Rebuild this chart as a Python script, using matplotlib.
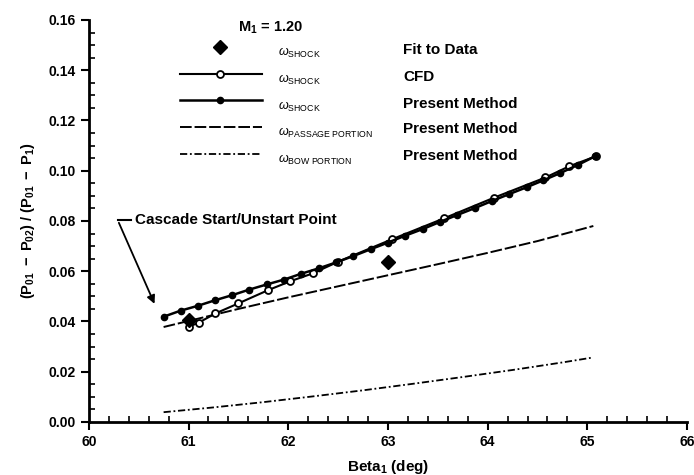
import matplotlib
matplotlib.use("Agg")
import matplotlib.pyplot as plt
from matplotlib.ticker import MultipleLocator

plt.rcParams['font.family'] = ['Liberation Sans', 'DejaVu Sans']
plt.rcParams['mathtext.fontset'] = 'custom'
plt.rcParams['mathtext.rm'] = 'Liberation Sans'
plt.rcParams['mathtext.bf'] = 'Liberation Sans:bold'
plt.rcParams['mathtext.it'] = 'Liberation Sans:italic'

# Fit to data (diamonds)
fit_beta = [61.00, 63.00]
fit_loss = [0.0405, 0.0638]

# CFD (open circles)
cfd_beta = [61.00, 61.10, 61.27, 61.50, 61.80, 62.02, 62.25, 62.50, 63.04, 63.56, 64.06, 64.58, 64.82, 65.09]
cfd_loss = [0.0379, 0.0395, 0.0432, 0.0472, 0.0525, 0.0560, 0.0592, 0.0638, 0.0727, 0.0810, 0.0892, 0.0973, 0.1018, 0.1058]

# Present method, shock loss (filled circles)
pm_beta = [60.75, 60.92, 61.09, 61.27, 61.44, 61.61, 61.79, 61.96, 62.13, 62.31, 62.48, 62.65, 62.83,
           63.00, 63.17, 63.35, 63.52, 63.69, 63.87, 64.04, 64.21, 64.39, 64.56, 64.73, 64.91, 65.08]
pm_loss = [0.0419, 0.0443, 0.0462, 0.0485, 0.0505, 0.0527, 0.0548, 0.0567, 0.0590, 0.0612, 0.0635, 0.0660, 0.0688,
           0.0714, 0.0741, 0.0768, 0.0796, 0.0823, 0.0851, 0.0879, 0.0906, 0.0934, 0.0962, 0.0991, 0.1024, 0.1058]

# Present method, passage portion
pass_beta = [60.75, 61.50, 62.00, 62.50, 63.00, 63.50, 64.00, 64.50, 65.06]
pass_loss = [0.0378, 0.0450, 0.0496, 0.0540, 0.0584, 0.0628, 0.0673, 0.0720, 0.0780]

# Present method, bow portion
bow_beta = [60.75, 61.25, 61.75, 62.25, 62.75, 63.25, 63.75, 64.25, 64.75, 65.06]
bow_loss = [0.0039, 0.0058, 0.0079, 0.0102, 0.0126, 0.0152, 0.0179, 0.0207, 0.0237, 0.0257]

fig = plt.figure(figsize=(6.94, 4.75), dpi=100)
ax = fig.add_axes([0.128, 0.1116, 0.862, 0.8464])

ax.plot(pass_beta, pass_loss, color='black', lw=1.4, linestyle=(0, (6, 1.5)))
ax.plot(bow_beta, bow_loss, color='black', lw=1.3, linestyle=(0, (4, 1.5, 1, 1.5)))
ax.plot(cfd_beta, cfd_loss, color='black', lw=1.5, marker='o', markersize=5,
        markerfacecolor='white', markeredgewidth=1.3)
ax.plot(pm_beta, pm_loss, color='black', lw=1.8, marker='o', markersize=4.5)
ax.plot(fit_beta, fit_loss, linestyle='none', marker='D', markersize=7, color='black')

ax.set_xlim(60, 66)
ax.set_ylim(0, 0.16)
ax.xaxis.set_major_locator(MultipleLocator(1))
ax.xaxis.set_minor_locator(MultipleLocator(0.2))
ax.yaxis.set_major_locator(MultipleLocator(0.02))
ax.yaxis.set_minor_locator(MultipleLocator(0.005))
ax.yaxis.set_major_formatter(plt.FormatStrFormatter('%.2f'))
ax.tick_params(which='major', direction='out', length=6, width=1.5, labelsize=10)
ax.tick_params(which='minor', direction='in', length=4, width=1.2)
for lab in ax.get_xticklabels() + ax.get_yticklabels():
    lab.set_fontweight('bold')

ax.spines['top'].set_visible(False)
ax.spines['right'].set_visible(False)
ax.spines['left'].set_linewidth(2)
ax.spines['bottom'].set_linewidth(2)

ax.set_xlabel(r'Beta$_\mathbf{1}$ (deg)', fontsize=11, fontweight='bold', labelpad=6)
ax.set_ylabel(r'$\mathbf{(P_{01}\ -\ P_{02})\ /\ (P_{01}\ -\ P_{1})}$', fontsize=10.5, labelpad=8)

# annotation
ax.plot([60.29, 60.42], [0.0803, 0.0803], color='black', lw=1.5)
ax.annotate('', xy=(60.67, 0.046), xytext=(60.29, 0.0803),
            arrowprops=dict(arrowstyle='-|>', color='black', lw=1.3, mutation_scale=12))
ax.text(60.46, 0.0803, 'Cascade Start/Unstart Point', fontsize=11, fontweight='bold',
        va='center', ha='left')

# legend drawn by hand
tr = ax.transAxes
ax.text(0.249, 0.980, r'M$_\mathbf{1}$ = 1.20', transform=tr, fontsize=10.5, fontweight='bold',
        va='center', ha='left')
ax.plot([0.219], [0.933], transform=tr, marker='D', markersize=7, color='black', clip_on=False)
ax.plot([0.152, 0.289], [0.866, 0.866], transform=tr, color='black', lw=1.5)
ax.plot([0.220], [0.866], transform=tr, marker='o', markersize=5, markerfacecolor='white',
        markeredgewidth=1.3, color='black')
ax.plot([0.152, 0.289], [0.801, 0.801], transform=tr, color='black', lw=1.8)
ax.plot([0.220], [0.801], transform=tr, marker='o', markersize=4.5, color='black')
ax.plot([0.152, 0.289], [0.734, 0.734], transform=tr, color='black', lw=1.4, linestyle=(0, (6, 1.5)))
ax.plot([0.152, 0.289], [0.667, 0.667], transform=tr, color='black', lw=1.3,
        linestyle=(0, (4, 1.5, 1, 1.5)))

omega_labels = [r'$\omega_{\mathrm{SHOCK}}$', r'$\omega_{\mathrm{SHOCK}}$', r'$\omega_{\mathrm{SHOCK}}$',
                r'$\omega_{\mathrm{PASSAGE\ PORTION}}$', r'$\omega_{\mathrm{BOW\ PORTION}}$']
method_labels = ['Fit to Data', 'CFD', 'Present Method', 'Present Method', 'Present Method']
omega_y = [0.918, 0.851, 0.784, 0.719, 0.652]
method_y = [0.925, 0.858, 0.791, 0.728, 0.661]
for oy, ol in zip(omega_y, omega_labels):
    ax.text(0.316, oy, ol, transform=tr, fontsize=9, va='center', ha='left')
for my, ml in zip(method_y, method_labels):
    ax.text(0.525, my, ml, transform=tr, fontsize=11, fontweight='bold', va='center', ha='left')

fig.savefig('out.png', dpi=100)
